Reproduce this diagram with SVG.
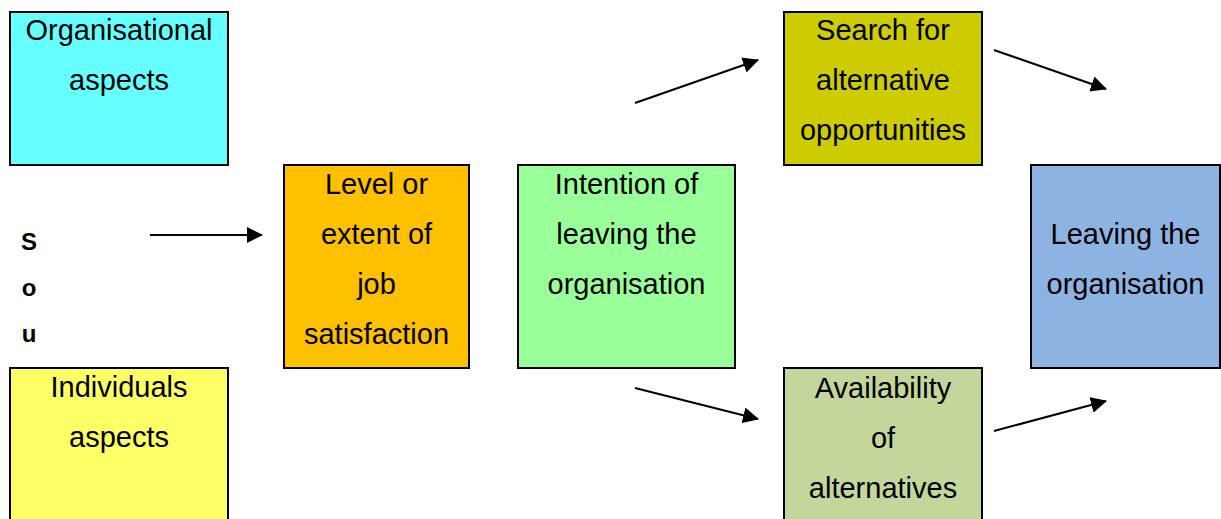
<svg xmlns="http://www.w3.org/2000/svg" width="1221" height="519" viewBox="0 0 1221 519">
  <style>
    .box { stroke: #000; stroke-width: 2; }
    .lbl { font-family: "Liberation Sans", Arial, Helvetica, sans-serif; font-size: 29px; fill: #000; text-anchor: middle; }
    .side { font-family: "Liberation Sans", Arial, Helvetica, sans-serif; font-size: 24px; font-weight: bold; fill: #000; text-anchor: middle; }
    .conn { stroke: #000; stroke-width: 2; fill: none; marker-end: url(#head); }
  </style>
  <defs>
    <marker id="head" viewBox="0 0 16 16" refX="15" refY="8" markerWidth="16" markerHeight="16" markerUnits="userSpaceOnUse" orient="auto">
      <path d="M0,0 L16,8 L0,16 z" fill="#000"/>
    </marker>
  </defs>
  <rect width="1221" height="519" fill="#fff"/>

  <g id="organisational-aspects">
    <rect class="box" x="10" y="12" width="218" height="153" fill="#66FFFF"/>
    <text class="lbl" x="119" y="40">Organisational</text>
    <text class="lbl" x="119" y="90">aspects</text>
  </g>

  <g id="individuals-aspects">
    <rect class="box" x="10" y="368" width="218" height="160" fill="#FFFF66"/>
    <text class="lbl" x="119" y="397">Individuals</text>
    <text class="lbl" x="119" y="447">aspects</text>
  </g>

  <g id="sources">
    <text class="side" x="29" y="250">S</text>
    <text class="side" x="29" y="296">o</text>
    <text class="side" x="29" y="342">u</text>
  </g>

  <g id="job-satisfaction">
    <rect class="box" x="284" y="165" width="185" height="203" fill="#FFC000"/>
    <text class="lbl" x="376.5" y="194">Level or</text>
    <text class="lbl" x="376.5" y="244">extent of</text>
    <text class="lbl" x="376.5" y="294">job</text>
    <text class="lbl" x="376.5" y="344">satisfaction</text>
  </g>

  <g id="intention-of-leaving">
    <rect class="box" x="518" y="165" width="217" height="203" fill="#99FF99"/>
    <text class="lbl" x="626.5" y="194">Intention of</text>
    <text class="lbl" x="626.5" y="244">leaving the</text>
    <text class="lbl" x="626.5" y="294">organisation</text>
  </g>

  <g id="search-for-alternatives">
    <rect class="box" x="784" y="12" width="198" height="153" fill="#CCCC00"/>
    <text class="lbl" x="883" y="40">Search for</text>
    <text class="lbl" x="883" y="90">alternative</text>
    <text class="lbl" x="883" y="140">opportunities</text>
  </g>

  <g id="availability-of-alternatives">
    <rect class="box" x="784" y="368" width="198" height="160" fill="#C3D69B"/>
    <text class="lbl" x="883" y="398">Availability</text>
    <text class="lbl" x="883" y="448">of</text>
    <text class="lbl" x="883" y="498">alternatives</text>
  </g>

  <g id="leaving-the-organisation">
    <rect class="box" x="1031" y="165" width="189" height="203" fill="#8DB3E2"/>
    <text class="lbl" x="1125.5" y="244">Leaving the</text>
    <text class="lbl" x="1125.5" y="294">organisation</text>
  </g>

  <g id="connectors">
    <line class="conn" x1="150" y1="235" x2="262" y2="235"/>
    <line class="conn" x1="635" y1="103" x2="758" y2="60"/>
    <line class="conn" x1="635" y1="388" x2="758" y2="419"/>
    <line class="conn" x1="994" y1="50" x2="1106" y2="89"/>
    <line class="conn" x1="994" y1="431" x2="1106" y2="401"/>
  </g>
</svg>
